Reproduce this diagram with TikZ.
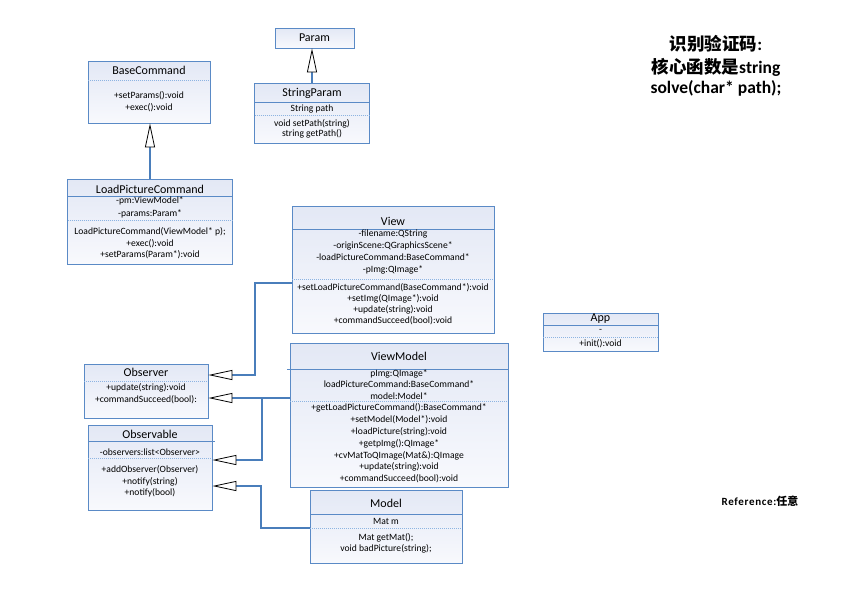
\documentclass[tikz,border=0pt]{standalone}
\usepackage{fontspec}
\setmainfont{Carlito}
\newfontfamily\cjk{Noto Sans CJK SC}
\newfontfamily\spacedfont{Carlito}[LetterSpace=6]
\usetikzlibrary{arrows.meta}
\definecolor{bordblue}{HTML}{5A8AC6}
\definecolor{connblue}{HTML}{4A7EBB}
\definecolor{dashblue}{HTML}{8DB4E2}
\definecolor{fillA}{HTML}{E3E8F5}
\definecolor{fillB}{HTML}{F8F9FD}
\begin{document}
\begin{tikzpicture}[x=1pt,y=-1pt,
 cls/.style={draw=bordblue, line width=0.8pt, top color=fillA, bottom color=fillB, inner sep=0pt, rectangle},
 ttl/.style={font=\fontsize{12}{14}\selectfont, inner sep=0pt},
 mem/.style={font=\fontsize{9.6}{#1}\selectfont, inner sep=0pt, align=center},
 mem/.default=12,
 solidsep/.style={draw=bordblue, line width=0.7pt},
 dashsep/.style={draw=dashblue, line width=0.8pt, dash pattern=on 1pt off 1pt},
 inh/.style={draw=connblue, line width=1.8pt, -{Triangle[length=24pt, width=10pt, color=black, fill=white, line width=0.8pt]}},
 bigtxt/.style={font=\bfseries\fontsize{17.5}{20}\selectfont, inner sep=0pt},
]
\fill[white] (0,0) rectangle (842,595);
\useasboundingbox (0,0) rectangle (842,595);

% Param
\node[cls, ttl, minimum width=79pt, minimum height=20pt] (param) at (314.5,38) {Param};

% StringParam
\node[cls, minimum width=115pt, minimum height=60pt] (sp) at (312,113) {};
\node[ttl] (sp-t) at (312,93) {StringParam};
\draw[solidsep] (254.5,102) -- (369.5,102);
\node[mem] (sp-a) at (312,109) {String path};
\draw[dashsep] (254.5,115) -- (369.5,115);
\node[mem=10.5] (sp-m) at (312,129) {void setPath(string)\\string getPath()};

% BaseCommand
\node[cls, minimum width=122pt, minimum height=62pt] (bc) at (149,92) {};
\node[ttl] (bc-t) at (149,70) {BaseCommand};
\draw[dashsep] (88,80) -- (210,80);
\node[mem=11.5] (bc-m) at (149,101.5) {+setParams():void\\+exec():void};

% LoadPictureCommand
\node[cls, minimum width=165pt, minimum height=85pt] (lpc) at (150,221.5) {};
\node[ttl] (lpc-t) at (150,189) {LoadPictureCommand};
\draw[solidsep] (67.5,196) -- (232.5,196);
\node[mem=13] (lpc-a) at (150,207.5) {-pm:ViewModel*\\-params:Param*};
\draw[dashsep] (67.5,220) -- (232.5,220);
\node[mem=11.5] (lpc-m) at (150,243.5) {LoadPictureCommand(ViewModel* p);\\+exec():void\\+setParams(Param*):void};

% View
\node[cls, minimum width=202pt, minimum height=127pt] (view) at (393,269.5) {};
\node[ttl] (view-t) at (393,221) {View};
\draw[solidsep] (292,229) -- (494,229);
\node[mem=12] (view-a) at (393,251.75) {-filename:QString\\-originScene:QGraphicsScene*\\-loadPictureCommand:BaseCommand*\\-pImg:QImage*};
\draw[dashsep] (292,279) -- (494,279);
\node[mem=11] (view-m) at (393,304.5) {+setLoadPictureCommand(BaseCommand*):void\\+setImg(QImage*):void\\+update(string):void\\+commandSucceed(bool):void};

% App
\node[cls, minimum width=115pt, minimum height=38pt] (app) at (600.5,332) {};
\node[ttl] (app-t) at (600.5,319) {App};
\draw[solidsep] (543,325) -- (658,325);
\node[mem] (app-a) at (600.5,331) {-};
\draw[dashsep] (543,337) -- (658,337);
\node[mem] (app-m) at (600.5,344) {+init():void};

% Observer
\node[cls, minimum width=124pt, minimum height=54pt] (obs) at (146,391) {};
\node[ttl] (obs-t) at (146,372) {Observer};
\draw[dashsep] (84,381) -- (208,381);
\node[mem=12] (obs-m) at (146,394) {+update(string):void\\+commandSucceed(bool):};

% Observable
\node[cls, minimum width=124pt, minimum height=85pt] (obsl) at (150,467.5) {};
\node[ttl] (obsl-t) at (150,434) {Observable};
\draw[solidsep] (88,441) -- (215,441);
\node[mem] (obsl-a) at (150,452) {-observers:list<Observer>};
\draw[dashsep] (88,458) -- (212,458);
\node[mem=11.5] (obsl-m) at (150,481.5) {+addObserver(Observer)\\+notify(string)\\+notify(bool)};

% ViewModel
\node[cls, minimum width=218pt, minimum height=144pt] (vm) at (399,415) {};
\node[ttl] (vm-t) at (399,356) {ViewModel};
\draw[solidsep] (287,369) -- (508,369);
\node[mem=11.5] (vm-a) at (399,384.5) {pImg:QImage*\\loadPictureCommand:BaseCommand*\\model:Model*};
\draw[dashsep] (290,401) -- (508,401);
\node[mem=11.8] (vm-m) at (399,443.5) {+getLoadPictureCommand():BaseCommand*\\+setModel(Model*):void\\+loadPicture(string):void\\+getpImg():QImage*\\+cvMatToQImage(Mat\&):QImage\\+update(string):void\\+commandSucceed(bool):void};

% Model
\node[cls, minimum width=152pt, minimum height=73pt] (model) at (386,526.5) {};
\node[ttl] (model-t) at (386,503) {Model};
\draw[solidsep] (310,514) -- (462,514);
\node[mem] (model-a) at (386,521.5) {Mat m};
\draw[dashsep] (310,528) -- (462,528);
\node[mem=11] (model-m) at (386,543.5) {Mat getMat();\\void badPicture(string);};

% inheritance connectors
\draw[inh] (sp.north) -- (sp.north |- param.south);
\draw[inh] (lpc.north) -- (lpc.north |- bc.south);
\draw[inh] ([yshift=-13.5pt]view.west) -- ++(-37,0) |- ([yshift=16pt]obs.east);
\draw[inh] ([yshift=17pt]vm.west) -- ([yshift=-7pt]obs.east);
\draw[inh] ([yshift=17pt]vm.west) -- ++(-28,0) |- ([yshift=7.5pt]obsl.east);
\draw[inh] ([yshift=-1.5pt]model.west) -- ++(-49,0) |- ([yshift=-18.5pt]obsl.east);

% notes
\node[bigtxt] (note1) at (716,44) {{\cjk 识别验证码}:};
\node[bigtxt] (note2) at (716,67) {{\cjk 核心函数是}string};
\node[bigtxt] (note3) at (716,88) {solve(char* path);};
\node[font=\bfseries\fontsize{11}{13}\selectfont, inner sep=0pt] (ref) at (760,501) {{\spacedfont Reference:}{\cjk 任意}};
\end{tikzpicture}
\end{document}
